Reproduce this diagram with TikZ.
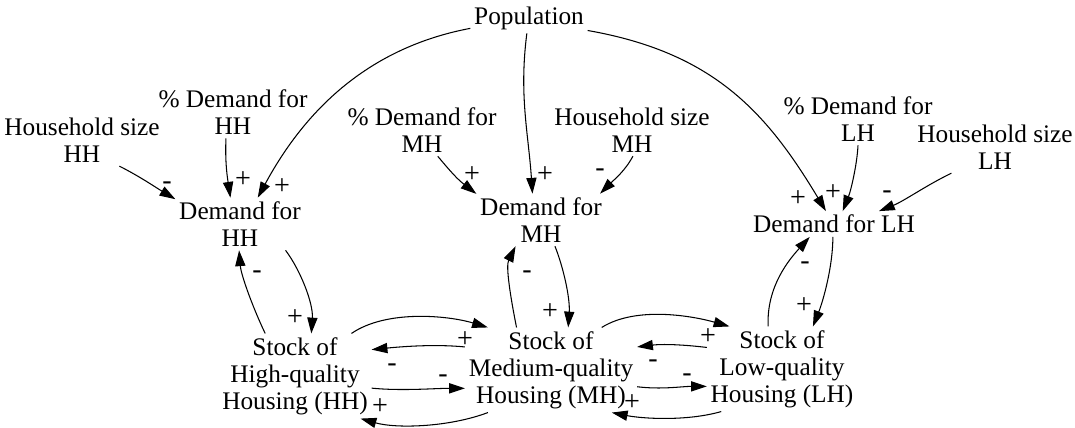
\documentclass[tikz,border=0pt]{standalone}
\usepackage{fontspec}
\setmainfont{Liberation Serif}
\usetikzlibrary{arrows.meta}
\tikzset{
  var/.style={align=center, inner sep=2pt, font=\fontsize{14.4}{15.4}\selectfont},
  link/.style={line width=0.6pt, -{Triangle[length=9pt,width=5.8pt]}},
  sign/.style={inner sep=0pt, font=\fontsize{16}{17}\selectfont}
}
\begin{document}
\begin{tikzpicture}[x=0.02cm, y=-0.02cm]
  \useasboundingbox (0,0) rectangle (1075,427);
  % Draw variables
  \node[var] (pop) at (529,18) {Population};
  \node[var] (hshh) at (82,140) {Household size\\HH};
  \node[var] (pdhh) at (233,112) {\% Demand for\\HH};
  \node[var] (dhh) at (240,224) {Demand for\\HH};
  \node[var] (pdmh) at (422,130) {\% Demand for\\MH};
  \node[var] (hsmh) at (632,130) {Household size\\MH};
  \node[var] (dmh) at (541,220) {Demand for\\MH};
  \node[var] (pdlh) at (858,119) {\% Demand for\\LH};
  \node[var] (hslh) at (995,147) {Household size\\LH};
  \node[var] (dlh) at (834,224) {Demand for LH};
  \node[var] (shh) at (295,376) {Stock of\\High-quality\\Housing (HH)};
  \node[var] (smh) at (551,370) {Stock of\\Medium-quality\\Housing (MH)};
  \node[var] (slh) at (782,369) {Stock of\\Low-quality\\Housing (LH)};
  % Draw links into demand
  \draw[link] (pop.190) .. controls +(-90,17) and +(54,-100) .. (dhh.56);
  \draw[link] (pop.262) .. controls +(-8,62) and +(-4,-60) .. (dmh.108);
  \draw[link] (pop.348) .. controls +(125,22) and +(-60,-100) .. (dlh.122);
  \draw[link] (hshh.325) .. controls +(20,10) and +(-20,-12) .. (dhh.159);
  \draw[link] (pdhh.255) .. controls +(-1,25) and +(-3,-20) .. (dhh.110);
  \draw[link] (pdmh.301) .. controls +(15,18) and +(-18,-14) .. (dmh.158);
  \draw[link] (hsmh.272) .. controls +(-8,15) and +(14,-14) .. (dmh.24);
  \draw[link] (pdlh.270) .. controls +(-1,20) and +(8,-20) .. (dlh.56);
  \draw[link] (hslh.211) .. controls +(-25,12) and +(25,-10) .. (dlh.16);
  % Draw demand-stock loops
  \draw[link] (dhh.330) .. controls +(15,20) and +(2,-30) .. (shh.69);
  \draw[link] (shh.125) .. controls +(-12,-25) and +(2,25) .. (dhh.268);
  \draw[link] (dmh.298) .. controls +(8,20) and +(2,-30) .. (smh.68);
  \draw[link] (smh.129) .. controls +(-6,-30) and +(-10,20) .. (dmh.226);
  \draw[link] (dlh.265) .. controls +(0,30) and +(10,-25) .. (slh.54);
  \draw[link] (slh.108) .. controls +(-2,-40) and +(-20,22) .. (dlh.208);
  % Draw links between stocks
  \draw[link] (shh.37) .. controls +(35,-24) and +(-40,-12) .. (smh.146);
  \draw[link] (smh.165) .. controls +(-30,-3) and +(30,-3) .. (shh.19);
  \draw[link] (shh.351) .. controls +(30,3) and +(-30,0) .. (smh.192);
  \draw[link] (smh.214) .. controls +(-40,15) and +(35,10) .. (shh.327);
  \draw[link] (smh.40) .. controls +(35,-22) and +(-35,-10) .. (slh.141);
  \draw[link] (slh.164) .. controls +(-25,-3) and +(25,-3) .. (smh.15);
  \draw[link] (smh.349) .. controls +(25,3) and +(-25,0) .. (slh.193);
  \draw[link] (slh.215) .. controls +(-35,10) and +(30,6) .. (smh.325);
  % Draw polarity signs
  \foreach \s/\x/\y [count=\i] in {+/282/187, +/545/175, +/798/199, -/167/185.5,
      +/243/180, +/472/175, -/600/172.5, +/833/193, -/887/194.5,
      +/295/318, -/257/274.5, +/550/312, -/527/274.5, +/804/306, -/805/265.5,
      +/465/340, -/392/367.5, -/443/378.5, +/380/407,
      +/708/337, -/653/363.5, -/687/377.5, +/632/403}
    \node[sign] (sign\i) at (\x,\y) {\s};
\end{tikzpicture}
\end{document}
